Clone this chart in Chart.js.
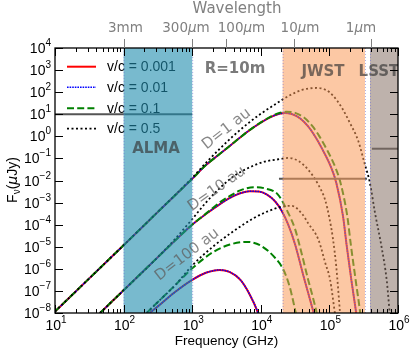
<!DOCTYPE html>
<html>
<head>
<meta charset="utf-8">
<script src="https://cdn.jsdelivr.net/npm/chart.js@4.4.1/dist/chart.umd.min.js"></script>
<style>
html,body{margin:0;padding:0;background:#fff;}
canvas{display:block;}
</style>
</head>
<body>
<canvas id="chart" width="415" height="355"></canvas>
<script>
// ================= DATA =================
// Frequencies in GHz, fluxes in micro-Jansky.
// D = 1 au
const freqD1v0001 = [10, 31.6, 100, 316, 1000, 1585, 2512, 3981, 6310, 1e4, 1.413e4, 1.862e4, 2.239e4, 2.818e4, 3.715e4, 4.898e4, 6.166e4, 7.943e4, 1.072e5, 1.259e5, 1.585e5, 1.778e5, 2.089e5, 2.455e5, 2.692e5];
const fluxD1v0001 = [1.17e-8, 3.7e-7, 1.17e-5, 3.8e-4, 1.2e-2, 5.0e-2, 0.158, 0.5, 1.58, 4.17, 7.59, 10.5, 11.5, 10.2, 6.6, 2.82, 1.0, 0.251, 3.55e-2, 7.94e-3, 2.24e-4, 1.26e-5, 3.16e-7, 1.0e-8, 1.0e-9];
const freqD1v001 = [10, 31.6, 100, 316, 1000, 1585, 2512, 3981, 6310, 1e4, 1.413e4, 1.862e4, 2.239e4, 2.818e4, 3.715e4, 4.898e4, 6.166e4, 7.943e4, 1.072e5, 1.259e5, 1.585e5, 1.778e5, 2.089e5, 2.455e5, 2.692e5];
const fluxD1v001 = [1.17e-8, 3.7e-7, 1.17e-5, 3.8e-4, 1.2e-2, 5.0e-2, 0.158, 0.5, 1.58, 4.17, 7.59, 10.5, 11.5, 10.2, 6.6, 2.82, 1.0, 0.251, 3.55e-2, 7.94e-3, 2.24e-4, 1.26e-5, 3.16e-7, 1.0e-8, 1.0e-9];
const freqD1v01 = [10, 31.6, 100, 316, 1000, 1585, 2512, 3981, 6310, 1e4, 1.413e4, 1.862e4, 2.344e4, 3.162e4, 4.266e4, 5.623e4, 7.079e4, 9.12e4, 1.23e5, 1.445e5, 1.82e5, 2.042e5, 2.399e5, 2.818e5, 3.09e5];
const fluxD1v01 = [1.17e-8, 3.7e-7, 1.17e-5, 3.8e-4, 1.2e-2, 5.0e-2, 0.158, 0.5, 1.58, 4.27, 7.94, 11.5, 12.9, 11.5, 7.08, 2.95, 1.05, 0.263, 3.72e-2, 8.32e-3, 2.51e-4, 1.41e-5, 3.55e-7, 1.0e-8, 1.0e-9];
const freqD1v05 = [10, 31.6, 100, 316, 1000, 1585, 2512, 3981, 6918, 1e4, 1.82e4, 2.512e4, 3.981e4, 6.457e4, 8.913e4, 1.122e5, 1.514e5, 1.995e5, 2.63e5, 3.236e5, 3.89e5, 4.624e5, 5.754e5, 6.839e5, 7.586e5, 8.318e5];
const fluxD1v05 = [1.17e-8, 3.7e-7, 1.17e-5, 3.8e-4, 1.32e-2, 6.31e-2, 0.269, 1.05, 4.47, 10.5, 35.5, 66.1, 126, 155, 126, 70.8, 20.0, 3.98, 0.631, 6.31e-2, 7.94e-3, 3.39e-4, 1.0e-5, 3.16e-7, 1.0e-8, 1.0e-9];
// D = 10 au
const freqD10v0001 = [45.3, 100, 316, 1000, 1585, 2512, 3548, 5012, 6918, 9333, 1.23e4, 1.622e4, 1.995e4, 2.512e4, 3.162e4, 4.169e4, 5.012e4, 5.888e4, 6.607e4];
const fluxD10v0001 = [1e-8, 1.07e-7, 3.39e-6, 1e-4, 3.02e-4, 8.32e-4, 1.62e-3, 2.63e-3, 3.24e-3, 3.16e-3, 2.29e-3, 1.12e-3, 4.47e-4, 1e-4, 1.26e-5, 5.01e-7, 6.31e-8, 1e-8, 2e-9];
const freqD10v001 = [45.3, 100, 316, 1000, 1585, 2512, 3548, 5012, 6918, 9333, 1.23e4, 1.622e4, 1.995e4, 2.512e4, 3.162e4, 4.169e4, 5.012e4, 5.888e4, 6.607e4];
const fluxD10v001 = [1e-8, 1.07e-7, 3.39e-6, 1e-4, 3.02e-4, 8.32e-4, 1.62e-3, 2.63e-3, 3.24e-3, 3.16e-3, 2.29e-3, 1.12e-3, 4.47e-4, 1e-4, 1.26e-5, 5.01e-7, 6.31e-8, 1e-8, 2e-9];
const freqD10v01 = [45.3, 100, 316, 1000, 1585, 2512, 3548, 5012, 7943, 1.122e4, 1.778e4, 2.512e4, 3.162e4, 3.715e4, 4.898e4, 5.754e4, 6.531e4, 7.244e4];
const fluxD10v01 = [1e-8, 1.07e-7, 3.39e-6, 1e-4, 3.16e-4, 1e-3, 2.0e-3, 3.55e-3, 5.01e-3, 4.47e-3, 2.29e-3, 3.39e-4, 6.31e-5, 1.02e-5, 3.24e-7, 5.01e-8, 1e-8, 2e-9];
const freqD10v05 = [45.3, 100, 316, 562, 1000, 1585, 2512, 3981, 6918, 1.122e4, 1.905e4, 2.512e4, 3.548e4, 4.898e4, 6.918e4, 8.71e4, 1e5, 1.122e5, 1.259e5, 1.429e5];
const fluxD10v05 = [1e-8, 1.07e-7, 3.39e-6, 2.24e-5, 1.78e-4, 1e-3, 4.47e-3, 1.51e-2, 3.98e-2, 7.08e-2, 9.33e-2, 0.105, 7.59e-2, 3.09e-2, 6.31e-3, 1.26e-3, 2.0e-4, 2.51e-5, 1.26e-6, 1e-8];
// D = 100 au
const freqD100v0001 = [240, 316, 562, 1000, 1585, 2512, 3548, 5012, 6918, 9120, 1.047e4];
const fluxD100v0001 = [1e-8, 2.0e-8, 8.91e-8, 3.16e-7, 6.61e-7, 8.91e-7, 7.08e-7, 3.24e-7, 6.76e-8, 1e-8, 2.5e-9];
const freqD100v001 = [240, 316, 562, 1000, 1585, 2512, 3548, 5012, 6918, 9120, 1.047e4];
const fluxD100v001 = [1e-8, 2.0e-8, 8.91e-8, 3.16e-7, 6.61e-7, 8.91e-7, 7.08e-7, 3.24e-7, 6.76e-8, 1e-8, 2.5e-9];
const freqD100v01 = [217, 316, 562, 1000, 1995, 3548, 6310, 1e4, 1.622e4, 2.138e4, 2.63e4, 3.236e4, 3.548e4];
const fluxD100v01 = [1e-8, 3.16e-8, 1.78e-7, 1.05e-6, 5.62e-6, 1.26e-5, 1.66e-5, 1.12e-5, 3.09e-6, 9.12e-7, 1.58e-7, 1e-8, 2.5e-9];
const freqD100v05 = [217, 316, 562, 1000, 1995, 3981, 7943, 1.259e4, 2.138e4, 2.818e4, 3.981e4, 4.898e4, 6.918e4, 8.71e4, 1.023e5, 1.202e5, 1.318e5];
const fluxD100v05 = [1e-8, 3.16e-8, 1.78e-7, 1.41e-6, 1e-5, 5.01e-5, 2.0e-4, 3.98e-4, 6.76e-4, 7.08e-4, 3.16e-4, 1.17e-4, 2.09e-5, 1.82e-6, 3.24e-7, 1e-8, 1.6e-9];

// Instrument sensitivity limits (horizontal lines)
const almaLimitFreq = [10, 1000];
const almaLimitFlux = [10, 10];
const jwstLimitFreq = [1.84e4, 3.53e5];
const jwstLimitFlux = [0.012, 0.012];
const lsstLimitFreq = [4.17e5, 1e6];
const lsstLimitFlux = [0.275, 0.275];

// Instrument bands
const bandNames = ['ALMA', 'JWST', 'LSST'];
const bandLow = [100, 2.08e4, 3.91e5];
const bandHigh = [1000, 3.3e5, 1e6];

// Legend labels
const legendLabels = ['v/c = 0.001', 'v/c = 0.01', 'v/c = 0.1', 'v/c = 0.5'];

// Axis ticks
const bottomTickExponents = [1, 2, 3, 4, 5, 6];
const leftTickExponents = [4, 3, 2, 1, 0, -1, -2, -3, -4, -5, -6, -7, -8];
const topTickFreqs = [100, 1000, 3100, 30500, 400000];
const topTickLabels = ['3mm', '300μm', '100μm', '10μm', '1μm'];
const topLabelFreqs = [106, 812, 5230, 37300, 289000];

// ================= CHART =================
const SANS = "'Liberation Sans', Arial, Helvetica, sans-serif";
const DJ = "'DejaVu Sans', sans-serif";

const styles = {
  v0001: { borderColor: '#ff0000', borderWidth: 2, borderDash: [] },
  v001:  { borderColor: '#0000ff', borderWidth: 1.5, borderDash: [1.6, 1.0] },
  v01:   { borderColor: '#008000', borderWidth: 2, borderDash: [7, 3.2] },
  v05:   { borderColor: '#000000', borderWidth: 1.8, borderDash: [2, 2.5] },
  limit: { borderColor: '#555555', borderWidth: 2, borderDash: [] }
};

function series(freq, flux, style, label, smooth) {
  return Object.assign({
    label: label,
    data: freq.map((f, i) => ({ x: f, y: flux[i] })),
    pointRadius: 0,
    fill: false,
    cubicInterpolationMode: smooth ? 'monotone' : 'default',
    tension: 0
  }, style);
}

const datasets = [
  series(freqD1v0001, fluxD1v0001, styles.v0001, legendLabels[0], true),
  series(freqD1v001, fluxD1v001, styles.v001, legendLabels[1], true),
  series(freqD1v01, fluxD1v01, styles.v01, legendLabels[2], true),
  series(freqD1v05, fluxD1v05, styles.v05, legendLabels[3], true),
  series(freqD10v0001, fluxD10v0001, styles.v0001, '', true),
  series(freqD10v001, fluxD10v001, styles.v001, '', true),
  series(freqD10v01, fluxD10v01, styles.v01, '', true),
  series(freqD10v05, fluxD10v05, styles.v05, '', true),
  series(freqD100v0001, fluxD100v0001, styles.v0001, '', true),
  series(freqD100v001, fluxD100v001, styles.v001, '', true),
  series(freqD100v01, fluxD100v01, styles.v01, '', true),
  series(freqD100v05, fluxD100v05, styles.v05, '', true),
  series(almaLimitFreq, almaLimitFlux, styles.limit, '', false),
  series(jwstLimitFreq, jwstLimitFlux, styles.limit, '', false),
  series(lsstLimitFreq, lsstLimitFlux, styles.limit, '', false)
];
// draw in array order (first = bottom), like matplotlib
datasets.forEach((d, i) => { d.order = datasets.length - i; });

const bandFill = ['rgba(30,140,173,0.6)', 'rgba(250,155,90,0.55)', 'rgba(137,115,104,0.55)'];
const regionTexts = [
  { t: 'ALMA', x: 297, y: 0.275 },
  { t: 'R=10m', x: 4.2e3, y: 1.15e3 },
  { t: 'JWST', x: 8.07e4, y: 850 },
  { t: 'LSST', x: 5.28e5, y: 850 }
];
const distTexts = [
  { t: 'D=1 au', x: 3.44e3, y: 1.54, a: -38 },
  { t: 'D=10 au', x: 2.46e3, y: 2.95e-3, a: -35 },
  { t: 'D=100 au', x: 914, y: 3.16e-6, a: -37.5 }
];

function drawPieces(ctx, pieces, x, y, align) {
  let w = 0;
  pieces.forEach(p => { ctx.font = p.font; p.w = ctx.measureText(p.t).width; w += p.w; });
  let cx = align === 'right' ? x - w : (align === 'center' ? x - w / 2 : x);
  ctx.textAlign = 'left';
  ctx.textBaseline = 'alphabetic';
  pieces.forEach(p => { ctx.font = p.font; ctx.fillText(p.t, cx, y + (p.dy || 0)); cx += p.w; });
}
function pow10Pieces(e) {
  return [
    { t: '10', font: `14px ${SANS}` },
    { t: e < 0 ? '\u2212' + Math.abs(e) : String(e), font: `10px ${SANS}`, dy: -7 }
  ];
}

const overlay = {
  id: 'overlay',
  afterDatasetsDraw(chart) {
    const ctx = chart.ctx, xs = chart.scales.x, ys = chart.scales.y, a = chart.chartArea;
    // ---- legend (under the bands, as in the reference)
    ctx.save();
    const rows = [66.7, 87.3, 108.3, 128.6];
    for (let i = 0; i < 4; i++) {
      const ds = chart.data.datasets[i];
      ctx.strokeStyle = ds.borderColor; ctx.lineWidth = ds.borderWidth;
      ctx.setLineDash(ds.borderDash || []);
      ctx.beginPath(); ctx.moveTo(67, rows[i]); ctx.lineTo(96, rows[i]); ctx.stroke();
      ctx.setLineDash([]);
      ctx.fillStyle = '#000'; ctx.font = `14px ${SANS}`;
      ctx.textAlign = 'left'; ctx.textBaseline = 'middle';
      ctx.fillText(ds.label, 107, rows[i] + 0.5);
    }
    ctx.restore();

    // ---- bands
    ctx.save();
    ctx.beginPath(); ctx.rect(a.left, a.top, a.right - a.left, a.bottom - a.top); ctx.clip();
    for (let i = 0; i < bandNames.length; i++) {
      const x0 = xs.getPixelForValue(bandLow[i]), x1 = xs.getPixelForValue(bandHigh[i]);
      ctx.fillStyle = bandFill[i];
      ctx.fillRect(x0, a.top, x1 - x0, a.bottom - a.top);
      ctx.strokeStyle = 'rgba(110,110,210,0.55)'; ctx.lineWidth = 1; ctx.setLineDash([1, 2]);
      [x0, x1].forEach(xx => { if (xx < a.right - 1) { ctx.beginPath(); ctx.moveTo(xx + 0.5, a.top); ctx.lineTo(xx + 0.5, a.bottom); ctx.stroke(); } });
      ctx.setLineDash([]);
    }
    // region labels
    ctx.fillStyle = 'rgba(50,50,50,0.65)';
    ctx.font = `bold 15px ${DJ}`; ctx.textAlign = 'center'; ctx.textBaseline = 'middle';
    regionTexts.forEach(r => ctx.fillText(r.t, xs.getPixelForValue(r.x), ys.getPixelForValue(r.y)));
    // distance labels
    ctx.fillStyle = 'rgba(95,95,95,0.75)';
    ctx.font = `15px ${DJ}`; ctx.textAlign = 'center'; ctx.textBaseline = 'alphabetic';
    distTexts.forEach(d => {
      ctx.save();
      ctx.translate(xs.getPixelForValue(d.x), ys.getPixelForValue(d.y));
      ctx.rotate(d.a * Math.PI / 180);
      ctx.fillText(d.t, 0, 0);
      ctx.restore();
    });
    ctx.restore();

    // ---- frame and inward ticks
    ctx.save();
    ctx.strokeStyle = '#000'; ctx.lineWidth = 1;
    const L = a.left, R = a.right, T = a.top, B = a.bottom;
    ctx.beginPath();
    for (let d = 1; d <= 6; d++) {
      const xp = Math.round(xs.getPixelForValue(Math.pow(10, d))) + 0.5;
      ctx.moveTo(xp, B); ctx.lineTo(xp, B - 8);
      ctx.moveTo(xp, T); ctx.lineTo(xp, T + 8);
      if (d < 6) {
        for (let k = 2; k <= 9; k++) {
          const xm = Math.round(xs.getPixelForValue(k * Math.pow(10, d))) + 0.5;
          ctx.moveTo(xm, B); ctx.lineTo(xm, B - 4);
          ctx.moveTo(xm, T); ctx.lineTo(xm, T + 4);
        }
      }
    }
    leftTickExponents.forEach(e => {
      const yp = Math.round(ys.getPixelForValue(Math.pow(10, e))) + 0.5;
      ctx.moveTo(L, yp); ctx.lineTo(L + 8, yp);
      ctx.moveTo(R, yp); ctx.lineTo(R - 8, yp);
    });
    ctx.stroke();
    ctx.lineWidth = 1.3;
    ctx.strokeRect(L, T, R - L, B - T);
    // top wavelength ticks (outward, grey)
    ctx.strokeStyle = '#808080'; ctx.lineWidth = 1;
    ctx.beginPath();
    topTickFreqs.forEach(f => {
      const xp = Math.round(xs.getPixelForValue(f)) + 0.5;
      ctx.moveTo(xp, T); ctx.lineTo(xp, T - 9);
    });
    ctx.stroke();
    ctx.restore();
  },
  afterDraw(chart) {
    const ctx = chart.ctx, xs = chart.scales.x, ys = chart.scales.y, a = chart.chartArea;
    ctx.save();
    ctx.fillStyle = '#000';
    // bottom tick labels
    bottomTickExponents.forEach(e => {
      drawPieces(ctx, pow10Pieces(e), xs.getPixelForValue(Math.pow(10, e)) + 1, a.bottom + 16.5, 'center');
    });
    // left tick labels
    leftTickExponents.forEach(e => {
      drawPieces(ctx, pow10Pieces(e), 51, ys.getPixelForValue(Math.pow(10, e)) + 5, 'right');
    });
    // x title
    ctx.font = `13.5px ${SANS}`; ctx.textAlign = 'center'; ctx.textBaseline = 'alphabetic';
    ctx.fillText('Frequency (GHz)', (a.left + a.right) / 2, 345);
    // y title
    ctx.save();
    ctx.translate(17, 180); ctx.rotate(-Math.PI / 2);
    drawPieces(ctx, [
      { t: 'F', font: `14px ${SANS}` },
      { t: 'ν', font: `10px ${SANS}`, dy: 3 },
      { t: '(', font: `14px ${SANS}` },
      { t: 'μ', font: `italic 14px ${DJ}` },
      { t: 'Jy)', font: `14px ${SANS}` }
    ], 0, 0, 'center');
    ctx.restore();
    // top axis labels
    ctx.fillStyle = '#808080';
    topTickLabels.forEach((lab, i) => {
      const idx = lab.indexOf('μ');
      const pieces = idx < 0 ? [{ t: lab, font: `13.5px ${DJ}` }] : [
        { t: lab.slice(0, idx), font: `13.5px ${DJ}` },
        { t: 'μ', font: `oblique 13.5px ${DJ}` },
        { t: lab.slice(idx + 1), font: `13.5px ${DJ}` }
      ];
      drawPieces(ctx, pieces, xs.getPixelForValue(topLabelFreqs[i]), 31.5, 'center');
    });
    ctx.font = `15px ${DJ}`; ctx.textAlign = 'center'; ctx.textBaseline = 'alphabetic';
    ctx.fillText('Wavelength', 237, 12.5);
    ctx.restore();
  }
};

new Chart(document.getElementById('chart'), {
  type: 'line',
  data: { datasets: datasets },
  options: {
    responsive: false,
    animation: false,
    devicePixelRatio: 1,
    events: [],
    layout: { padding: { left: 55, right: 17, top: 48, bottom: 42 } },
    elements: { line: { capBezierPoints: false } },
    plugins: { legend: { display: false }, tooltip: { enabled: false } },
    scales: {
      x: { type: 'logarithmic', min: 10, max: 1e6, display: false },
      y: { type: 'logarithmic', min: 1e-8, max: 1e4, display: false }
    }
  },
  plugins: [overlay]
});
</script>
</body>
</html>
